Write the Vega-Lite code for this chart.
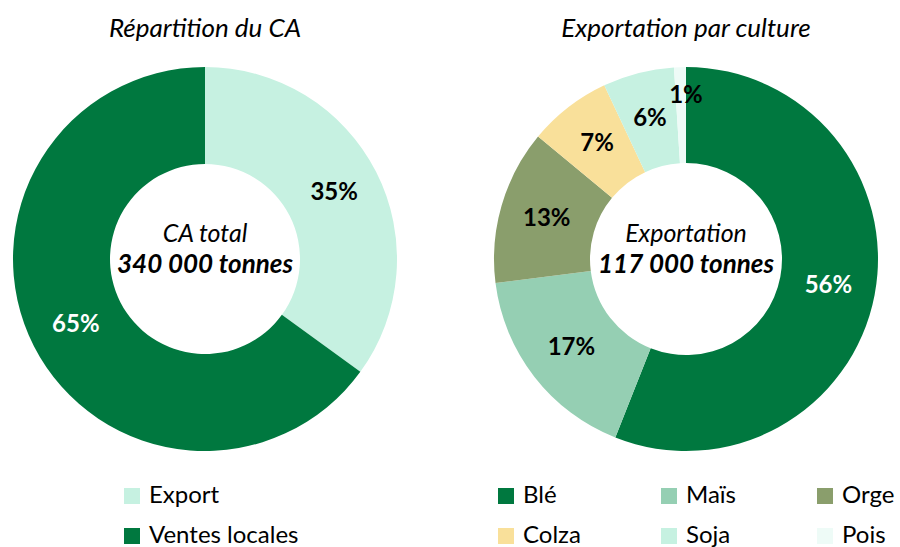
{
  "$schema": "https://vega.github.io/schema/vega-lite/v6.json",
  "padding": {"left": 0, "top": 16, "right": 0, "bottom": 0},
  "background": "white",
  "spacing": 76,
  "resolve": {"scale": {"color": "independent", "theta": "independent"}, "legend": {"color": "independent"}},
  "config": {
    "font": "Lato",
    "view": {"stroke": null},
    "title": {"font": "Lato", "fontSize": 26, "fontStyle": "italic", "fontWeight": "normal", "color": "#000000", "anchor": "middle", "offset": 17},
    "legend": {"labelFont": "Lato", "labelFontSize": 24, "labelColor": "#000000", "symbolType": "square", "symbolSize": 256, "symbolStrokeWidth": 0, "symbolOpacity": 1, "labelOffset": 5, "rowPadding": 16, "labelLimit": 300}
  },
  "datasets": {
    "ca": [
      {"categorie": "Export", "part": 0.35},
      {"categorie": "Ventes locales", "part": 0.65}
    ],
    "cultures": [
      {"culture": "Blé", "part": 0.56},
      {"culture": "Maïs", "part": 0.17},
      {"culture": "Orge", "part": 0.13},
      {"culture": "Colza", "part": 0.07},
      {"culture": "Soja", "part": 0.06},
      {"culture": "Pois", "part": 0.01}
    ],
    "centres": [
      {"vue": "CA", "ligne1": "CA total", "ligne2": "340 000 tonnes"},
      {"vue": "Export", "ligne1": "Exportation", "ligne2": "117 000 tonnes"}
    ]
  },
  "hconcat": [
    {
      "width": 410,
      "height": 400,
      "title": "Répartition du CA",
      "layer": [
        {
          "data": {"name": "ca"},
          "transform": [{"window": [{"op": "row_number", "as": "ordre"}]}],
          "mark": {"type": "arc", "outerRadius": 192, "innerRadius": 95},
          "encoding": {
            "theta": {"field": "part", "type": "quantitative", "stack": true},
            "order": {"field": "ordre", "type": "quantitative"},
            "color": {
              "field": "categorie",
              "type": "nominal",
              "sort": null,
              "scale": {"domain": ["Export", "Ventes locales"], "range": ["#C6F1E1", "#00783F"]},
              "legend": {"title": null, "orient": "none", "legendX": 120, "legendY": 425, "direction": "vertical"}
            }
          }
        },
        {
          "data": {"name": "ca"},
          "transform": [{"window": [{"op": "row_number", "as": "ordre"}]}],
          "mark": {"type": "text", "radius": 145, "font": "Lato", "fontSize": 24, "fontWeight": "bold"},
          "encoding": {
            "theta": {"field": "part", "type": "quantitative", "stack": true},
            "order": {"field": "ordre", "type": "quantitative"},
            "text": {"field": "part", "type": "quantitative", "format": ".0%"},
            "color": {"condition": {"test": "datum.categorie === 'Ventes locales'", "value": "#FFFFFF"}, "value": "#000000"}
          }
        },
        {
          "data": {"name": "centres"},
          "transform": [{"filter": "datum.vue === 'CA'"}],
          "mark": {"type": "text", "font": "Lato", "fontSize": 25, "fontStyle": "italic", "fontWeight": "normal", "color": "#000000", "dy": -25},
          "encoding": {"text": {"field": "ligne1", "type": "nominal"}}
        },
        {
          "data": {"name": "centres"},
          "transform": [{"filter": "datum.vue === 'CA'"}],
          "mark": {"type": "text", "font": "Lato", "fontSize": 26, "fontStyle": "italic", "fontWeight": "bold", "color": "#000000", "dy": 6},
          "encoding": {"text": {"field": "ligne2", "type": "nominal"}}
        }
      ]
    },
    {
      "width": 400,
      "height": 400,
      "title": "Exportation par culture",
      "layer": [
        {
          "data": {"name": "cultures"},
          "transform": [{"window": [{"op": "row_number", "as": "ordre"}]}],
          "mark": {"type": "arc", "outerRadius": 192, "innerRadius": 96},
          "encoding": {
            "theta": {"field": "part", "type": "quantitative", "stack": true},
            "order": {"field": "ordre", "type": "quantitative"},
            "color": {
              "field": "culture",
              "type": "nominal",
              "sort": null,
              "scale": {"domain": ["Blé", "Maïs", "Orge", "Colza", "Soja", "Pois"], "range": ["#00783F", "#95CFB3", "#8A9E6C", "#F9E09A", "#C6F1E1", "#EEFBF7"]},
              "legend": {"title": null, "orient": "none", "legendX": 8, "legendY": 425, "direction": "horizontal", "columns": 3, "columnPadding": 76, "gridAlign": "each"}
            }
          }
        },
        {
          "data": {"name": "cultures"},
          "transform": [{"window": [{"op": "row_number", "as": "ordre"}]}, {"filter": "datum.culture !== 'Pois'"}],
          "mark": {"type": "text", "radius": 145, "font": "Lato", "fontSize": 24, "fontWeight": "bold"},
          "encoding": {
            "theta": {"field": "part", "type": "quantitative", "stack": true},
            "order": {"field": "ordre", "type": "quantitative"},
            "text": {"field": "part", "type": "quantitative", "format": ".0%"},
            "color": {"condition": {"test": "datum.culture === 'Blé'", "value": "#FFFFFF"}, "value": "#000000"}
          }
        },
        {
          "data": {"name": "cultures"},
          "transform": [{"filter": "datum.culture === 'Pois'"}],
          "mark": {"type": "text", "radius": 163, "font": "Lato", "fontSize": 24, "fontWeight": "bold", "color": "#000000", "theta": 0},
          "encoding": {
            "text": {"field": "part", "type": "quantitative", "format": ".0%"}
          }
        },
        {
          "data": {"name": "centres"},
          "transform": [{"filter": "datum.vue === 'Export'"}],
          "mark": {"type": "text", "font": "Lato", "fontSize": 25, "fontStyle": "italic", "fontWeight": "normal", "color": "#000000", "dy": -25},
          "encoding": {"text": {"field": "ligne1", "type": "nominal"}}
        },
        {
          "data": {"name": "centres"},
          "transform": [{"filter": "datum.vue === 'Export'"}],
          "mark": {"type": "text", "font": "Lato", "fontSize": 26, "fontStyle": "italic", "fontWeight": "bold", "color": "#000000", "dy": 6},
          "encoding": {"text": {"field": "ligne2", "type": "nominal"}}
        }
      ]
    }
  ]
}
